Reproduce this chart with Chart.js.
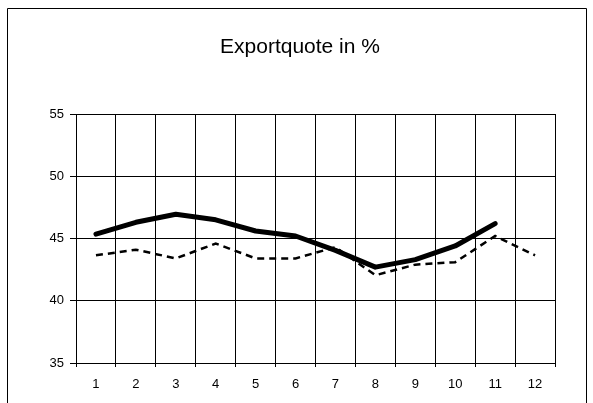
<!DOCTYPE html>
<html>
<head>
<meta charset="utf-8">
<script src="https://cdn.jsdelivr.net/npm/chart.js@4/dist/chart.umd.min.js"></script>
<style>
  html, body { margin: 0; padding: 0; background: #fff; }
  #wrap { width: 593px; height: 403px; position: relative; }
</style>
</head>
<body>
<div id="wrap"><canvas id="chart" width="593" height="403"></canvas></div>
<script>
// months 1..12
const months = ['1','2','3','4','5','6','7','8','9','10','11','12'];
// solid line (no value for month 12)
const quoteSolid = [45.35, 46.3, 46.95, 46.5, 45.6, 45.2, 44.05, 42.7, 43.3, 44.4, 46.2, null];
// dashed line
const quoteDashed = [43.65, 44.1, 43.4, 44.6, 43.4, 43.4, 44.3, 42.05, 42.9, 43.1, 45.2, 43.65];
const chartTitle = 'Exportquote in %';

const fontFamily = 'Arial, "Liberation Sans", sans-serif';

// frame around the whole chart (open at the bottom) + title over full width
const framePlugin = {
  id: 'frame',
  afterDraw(chart){
    const ctx = chart.ctx;
    ctx.save();
    ctx.strokeStyle = '#000';
    ctx.lineWidth = 1;
    ctx.beginPath();
    ctx.moveTo(7.5, 403);
    ctx.lineTo(7.5, 8.5);
    ctx.lineTo(586.5, 8.5);
    ctx.lineTo(586.5, 403);
    ctx.stroke();

    ctx.fillStyle = '#000';
    ctx.font = '21px ' + fontFamily;
    ctx.textAlign = 'center';
    ctx.textBaseline = 'alphabetic';
    ctx.fillText(chartTitle, 300, 53);
    ctx.restore();
  }
};

const ctx = document.getElementById('chart').getContext('2d');
new Chart(ctx, {
  type: 'line',
  data: {
    labels: months,
    datasets: [
      {
        label: 'solid',
        data: quoteSolid,
        borderColor: '#000',
        borderWidth: 5,
        pointRadius: 0,
        tension: 0,
        borderCapStyle: 'round',
        borderJoinStyle: 'round',
        spanGaps: false,
      },
      {
        label: 'dashed',
        data: quoteDashed,
        borderColor: '#000',
        borderWidth: 2.5,
        borderDash: [7, 5],
        pointRadius: 0,
        tension: 0,
      },
    ],
  },
  options: {
    responsive: false,
    animation: false,
    layout: { padding: { left: 0, right: 38, top: 114, bottom: 0 } },
    plugins: {
      legend: { display: false },
      tooltip: { enabled: false },
      title: { display: false },
    },
    scales: {
      x: {
        type: 'category',
        offset: true,
        grid: { offset: true, color: '#000', lineWidth: 1, drawTicks: true, tickLength: 4, tickColor: '#000' },
        border: { color: '#000', width: 1 },
        ticks: { color: '#000', font: { family: fontFamily, size: 13 }, padding: 10, maxRotation: 0 },
        afterFit(scale){ scale.height = 40; },
      },
      y: {
        min: 35,
        max: 55,
        ticks: { stepSize: 5, color: '#000', font: { family: fontFamily, size: 13 }, padding: 6 },
        grid: { color: '#000', lineWidth: 1, drawTicks: true, tickLength: 6, tickColor: '#000' },
        border: { color: '#000', width: 1 },
        afterFit(scale){ scale.width = 76; },
      },
    },
  },
  plugins: [framePlugin],
});
</script>
</body>
</html>
